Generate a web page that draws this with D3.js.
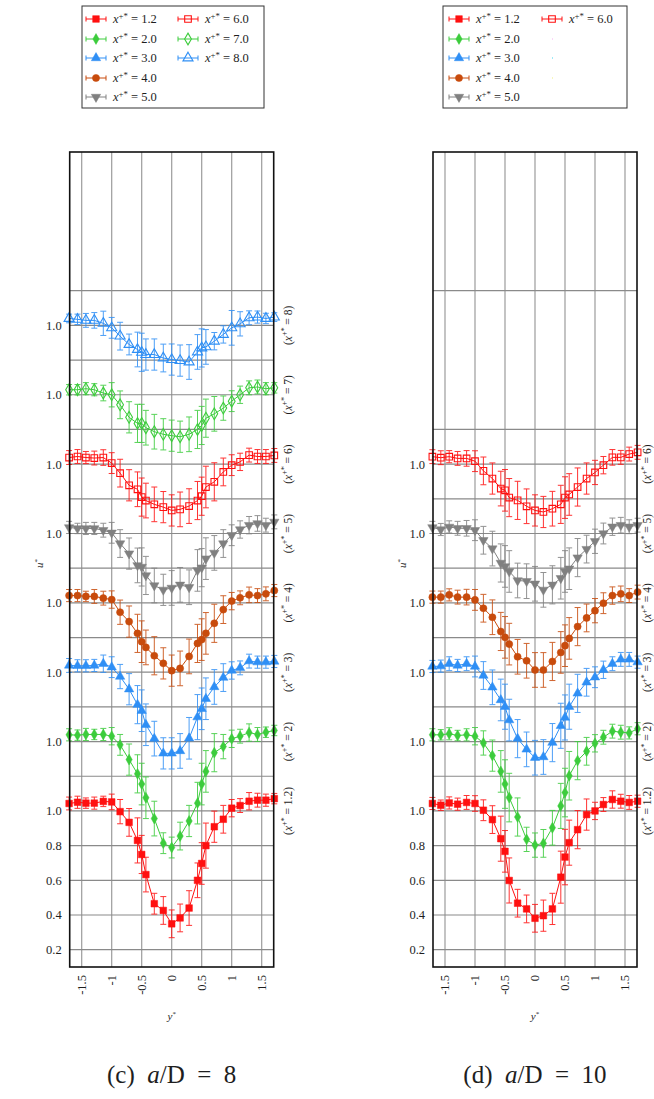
<!DOCTYPE html>
<html><head><meta charset="utf-8">
<script src="https://cdn.jsdelivr.net/npm/d3@7"></script>
<style>body{margin:0;background:#fff}svg{display:block}</style>
</head><body>
<svg id="c" width="654" height="1099" font-family="'Liberation Serif', 'Times New Roman', 'DejaVu Serif', serif"></svg>
<script>
// ---------------- DATA ----------------
const yStar = [-1.71,-1.57,-1.43,-1.29,-1.14,-1.0,-0.86,-0.71,-0.57,-0.5,-0.43,-0.29,-0.14,0,0.14,0.29,0.43,0.5,0.57,0.71,0.86,1.0,1.14,1.29,1.43,1.57,1.71];
const profileStep = 0.4;

// panel (c) a/D = 8
const L12 = [1.043,1.05,1.045,1.045,1.055,1.052,0.996,0.934,0.83,0.749,0.633,0.465,0.426,0.349,0.383,0.44,0.6,0.697,0.80,0.909,0.952,1.016,1.031,1.056,1.062,1.062,1.071];
const L20 = [1.039,1.037,1.041,1.041,1.041,1.031,0.981,0.896,0.814,0.755,0.676,0.556,0.414,0.389,0.455,0.542,0.645,0.755,0.828,0.936,0.971,1.016,1.031,1.052,1.041,1.054,1.064];
const L30 = [1.039,1.037,1.037,1.039,1.049,1.029,0.975,0.902,0.813,0.778,0.697,0.617,0.532,0.532,0.546,0.619,0.741,0.789,0.847,0.915,0.969,1.01,1.025,1.064,1.058,1.058,1.062];
const L40 = [1.042,1.042,1.037,1.037,1.027,1.019,0.946,0.892,0.824,0.776,0.743,0.695,0.651,0.609,0.622,0.691,0.766,0.788,0.824,0.882,0.961,1.01,1.029,1.046,1.042,1.052,1.071];
const L50 = [1.035,1.029,1.029,1.029,1.019,1.004,0.942,0.884,0.816,0.807,0.758,0.70,0.675,0.686,0.704,0.69,0.787,0.803,0.855,0.888,0.942,0.99,1.023,1.048,1.058,1.048,1.067];
const L60 = [1.038,1.044,1.038,1.035,1.038,1.006,0.948,0.878,0.855,0.81,0.79,0.768,0.752,0.733,0.739,0.758,0.79,0.815,0.868,0.898,0.955,0.994,1.013,1.052,1.044,1.044,1.05];
const L70 = [1.029,1.029,1.035,1.029,1.01,1.0,0.942,0.87,0.835,0.835,0.81,0.787,0.772,0.764,0.758,0.772,0.80,0.823,0.865,0.89,0.923,0.963,1.0,1.04,1.045,1.035,1.04];
const L80 = [1.04,1.035,1.029,1.029,1.012,0.986,0.938,0.89,0.861,0.845,0.832,0.832,0.812,0.803,0.797,0.789,0.847,0.87,0.876,0.909,0.948,0.986,1.009,1.044,1.048,1.04,1.048];
const eL12 = [.037,.035,.03,.035,.03,.045,.07,.08,.13,.11,.10,.06,.08,.08,.08,.10,.10,.12,.13,.09,.08,.05,.04,.05,.04,.035,.03];
const eL20 = [.035,.03,.035,.03,.035,.05,.06,.09,.11,.12,.12,.10,.06,.06,.08,.09,.12,.12,.12,.11,.07,.05,.04,.05,.04,.03,.03];
const eL30 = [.04,.035,.035,.035,.05,.06,.07,.09,.11,.12,.12,.10,.09,.09,.10,.12,.13,.12,.12,.10,.08,.05,.04,.04,.035,.035,.035];
const eL40 = [.035,.035,.03,.04,.04,.05,.07,.09,.11,.12,.10,.11,.09,.09,.10,.10,.11,.12,.12,.11,.08,.05,.04,.045,.04,.04,.035];
const eL50 = [.035,.03,.035,.035,.04,.06,.08,.09,.10,.11,.11,.10,.09,.10,.10,.10,.12,.11,.12,.10,.08,.06,.05,.05,.045,.04,.04];
const eL60 = [.04,.04,.035,.04,.045,.06,.08,.09,.10,.11,.10,.10,.09,.09,.10,.10,.11,.11,.12,.11,.08,.06,.05,.04,.04,.04,.04];
const eL70 = [.03,.03,.035,.035,.045,.07,.08,.09,.11,.11,.10,.10,.09,.09,.09,.10,.11,.11,.11,.10,.07,.06,.05,.04,.04,.035,.03];
const eL80 = [.025,.03,.04,.045,.07,.06,.08,.06,.10,.11,.09,.09,.08,.09,.09,.10,.10,.11,.10,.05,.05,.10,.07,.04,.035,.03,.025];

// panel (d) a/D = 10
const R12 = [1.043,1.033,1.046,1.039,1.049,1.043,1.004,0.95,0.84,0.767,0.599,0.468,0.435,0.381,0.396,0.435,0.618,0.734,0.817,0.892,0.979,1.0,1.037,1.066,1.056,1.049,1.056];
const R20 = [1.039,1.039,1.045,1.035,1.039,1.031,0.992,0.919,0.828,0.755,0.677,0.565,0.436,0.403,0.413,0.503,0.629,0.706,0.803,0.89,0.944,0.99,1.025,1.06,1.054,1.05,1.074];
const R30 = [1.033,1.035,1.049,1.039,1.049,1.033,0.981,0.913,0.84,0.801,0.724,0.617,0.555,0.507,0.511,0.594,0.691,0.739,0.801,0.878,0.942,0.971,1.014,1.049,1.074,1.074,1.058];
const R40 = [1.033,1.033,1.046,1.033,1.033,1.017,0.969,0.917,0.835,0.801,0.762,0.689,0.666,0.613,0.613,0.662,0.714,0.753,0.795,0.863,0.913,0.955,0.998,1.042,1.052,1.042,1.062];
const R50 = [1.035,1.023,1.038,1.03,1.03,1.019,0.961,0.913,0.83,0.81,0.781,0.729,0.725,0.71,0.675,0.704,0.742,0.781,0.797,0.861,0.91,0.955,1.0,1.039,1.048,1.039,1.048];
const R60 = [1.043,1.037,1.043,1.033,1.033,1.017,0.961,0.917,0.859,0.849,0.807,0.791,0.757,0.733,0.724,0.743,0.768,0.807,0.825,0.868,0.917,0.952,0.994,1.039,1.039,1.058,1.068];
const eR12 = [.035,.03,.035,.035,.04,.045,.06,.08,.13,.12,.13,.08,.08,.08,.09,.09,.15,.16,.13,.11,.09,.05,.04,.05,.04,.04,.035];
const eR20 = [.035,.03,.035,.03,.035,.05,.07,.09,.12,.14,.14,.11,.07,.07,.08,.10,.13,.14,.14,.11,.08,.05,.04,.04,.04,.035,.035];
const eR30 = [.035,.035,.04,.035,.04,.06,.08,.10,.12,.13,.12,.11,.10,.10,.10,.11,.13,.13,.13,.11,.08,.06,.05,.04,.04,.04,.035];
const eR40 = [.035,.035,.035,.04,.045,.06,.08,.10,.11,.12,.12,.10,.10,.10,.10,.11,.12,.12,.12,.11,.08,.07,.06,.05,.045,.04,.04];
const eR50 = [.035,.035,.035,.04,.045,.06,.08,.10,.11,.12,.12,.10,.10,.10,.10,.11,.12,.12,.12,.11,.08,.07,.06,.05,.045,.04,.04];
const eR60 = [.04,.04,.035,.04,.045,.06,.08,.09,.10,.12,.11,.11,.10,.09,.09,.10,.11,.12,.12,.11,.09,.07,.05,.045,.04,.04,.04];

const legendLabels = ["1.2","2.0","3.0","4.0","5.0","6.0","7.0","8.0"];
const sideLabels = ["1.2","2","3","4","5","6","7","8"];
const xTicks = [-1.5,-1,-0.5,0,0.5,1,1.5];
const xTickLabels = ["-1.5","-1","-0.5","0","0.5","1","1.5"];
const yTicksLeft = [0.2,0.4,0.6,0.8,1.0,1.2,1.4,1.6,1.8,2.0,2.2,2.4,2.6,2.8,3.0,3.2,3.4,3.6,3.8,4.0];
const yTickLabelsLeft = ["0.2","0.4","0.6","0.8","1.0","","1.0","","1.0","","1.0","","1.0","","1.0","","1.0","","1.0",""];
const yTicksRight = [0.2,0.4,0.6,0.8,1.0,1.2,1.4,1.6,1.8,2.0,2.2,2.4,2.6,2.8,3.0,3.2,4.0];
const yTickLabelsRight = ["0.2","0.4","0.6","0.8","1.0","","1.0","","1.0","","1.0","","1.0","","1.0","",""];

// ---------------- STYLES ----------------
const RED="#ff1010", GREEN="#3ccc3c", BLUE="#2f8ff5", ORANGE="#c84b0c", GRAY="#808080";
const styles = [
  {color:RED, sym:d3.symbolSquare, size:44, fill:true, rot:0},
  {color:GREEN, sym:d3.symbolDiamond, size:34, fill:true, rot:0},
  {color:BLUE, sym:d3.symbolTriangle, size:38, fill:true, rot:0},
  {color:ORANGE, sym:d3.symbolCircle, size:40, fill:true, rot:0},
  {color:GRAY, sym:d3.symbolTriangle, size:38, fill:true, rot:180},
  {color:RED, sym:d3.symbolSquare, size:44, fill:false, rot:0},
  {color:GREEN, sym:d3.symbolDiamond, size:40, fill:false, rot:0},
  {color:BLUE, sym:d3.symbolTriangle, size:44, fill:false, rot:0}
];

const FONT = "'Liberation Serif', 'Times New Roman', 'DejaVu Serif', serif";
const svg = d3.select("#c");
const plotTop = 152, plotBottom = 967;
const y = d3.scaleLinear().domain([0.1, 4.8]).range([plotBottom, plotTop]);

function supText(sel, base, sup, rest, size){
  sel.append("tspan").attr("font-style","italic").text(base);
  sel.append("tspan").attr("font-size", size*0.7).attr("dy", -size*0.38).text(sup);
  sel.append("tspan").attr("dy", size*0.38).text(rest);
}

function panel(cfg){
  const x = d3.scaleLinear().domain([-1.7,1.7]).range(cfg.xr);
  const g = svg.append("g").attr("font-family",FONT).attr("fill","#1e1e1e");
  const [x0,x1] = cfg.xr;
  // grid
  g.selectAll(".vg").data(xTicks).join("line")
    .attr("x1",d=>x(d)).attr("x2",d=>x(d)).attr("y1",plotTop).attr("y2",plotBottom)
    .attr("stroke","#9c9c9c").attr("stroke-width",1.2);
  g.selectAll(".hg").data(cfg.yTicks).join("line")
    .attr("x1",x0).attr("x2",x1).attr("y1",d=>y(d)).attr("y2",d=>y(d))
    .attr("stroke","#8a8a8a").attr("stroke-width",1.2);
  // y tick labels
  g.selectAll(".yl").data(cfg.yTicks).join("text")
    .attr("x",x0-8).attr("y",d=>y(d)).attr("dy","0.35em").attr("text-anchor","end")
    .attr("font-size",12.5).text((d,i)=>cfg.yLabels[i]);
  // x tick labels
  g.selectAll(".xl").data(xTicks).join("text")
    .attr("transform",d=>`translate(${x(d)},${plotBottom+8}) rotate(-90)`)
    .attr("dy","0.35em").attr("text-anchor","end").attr("font-size",12.5)
    .text((d,i)=>xTickLabels[i]);
  // axis titles
  const yt = g.append("text").attr("transform",`translate(${x0-27},${(plotTop+plotBottom)/2+4}) rotate(-90)`)
    .attr("text-anchor","middle").attr("font-size",11);
  yt.append("tspan").attr("font-style","italic").text("u");
  yt.append("tspan").attr("font-size",7).attr("dy",-4).text("*");
  const xt = g.append("text").attr("x",x(0)).attr("y",1020).attr("text-anchor","middle").attr("font-size",11);
  xt.append("tspan").attr("font-style","italic").text("y");
  xt.append("tspan").attr("font-size",7).attr("dy",-4).text("*");

  // data
  cfg.series.forEach((s,k)=>{
    const st = styles[k], off = k*profileStep;
    const pts = yStar.map((v,i)=>({x:v,u:s.vals[i]+off,e:s.err[i]}));
    const sg = g.append("g");
    sg.append("path").datum(pts)
      .attr("d", d3.line().x(d=>x(d.x)).y(d=>y(d.u)))
      .attr("fill","none").attr("stroke",st.color).attr("stroke-width",1);
    const eb = sg.selectAll(".eb").data(pts).join("g").attr("stroke",st.color).attr("stroke-width",1).attr("opacity",0.85);
    eb.append("line").attr("x1",d=>x(d.x)).attr("x2",d=>x(d.x)).attr("y1",d=>y(d.u-d.e)).attr("y2",d=>y(d.u+d.e));
    eb.append("line").attr("x1",d=>x(d.x)-3).attr("x2",d=>x(d.x)+3).attr("y1",d=>y(d.u-d.e)).attr("y2",d=>y(d.u-d.e));
    eb.append("line").attr("x1",d=>x(d.x)-3).attr("x2",d=>x(d.x)+3).attr("y1",d=>y(d.u+d.e)).attr("y2",d=>y(d.u+d.e));
    sg.selectAll(".mk").data(pts).join("path")
      .attr("d", d3.symbol().type(st.sym).size(st.size))
      .attr("transform",d=>`translate(${x(d.x)},${y(d.u)}) rotate(${st.rot})`)
      .attr("fill", st.fill?st.color:"none").attr("stroke",st.color).attr("stroke-width",st.fill?0.5:1.1);
    // side label
    const t = g.append("text").attr("transform",`translate(${x1+cfg.sideOff},${y(1.0+off)}) rotate(-90)`)
      .attr("text-anchor","middle").attr("dy","0.35em").attr("font-size",11.5);
    t.append("tspan").text("(");
    supText(t,"x","+*"," = "+sideLabels[k]+")",11.5);
  });
  // frame
  g.append("rect").attr("x",x0).attr("y",plotTop).attr("width",x1-x0).attr("height",plotBottom-plotTop)
    .attr("fill","none").attr("stroke","#111").attr("stroke-width",1.6);

  // legend
  const L = cfg.legend;
  g.append("rect").attr("x",L.x).attr("y",6).attr("width",L.w).attr("height",102)
    .attr("fill","#fff").attr("stroke","#333").attr("stroke-width",1);
  const rows = [19,39,58,78,97];
  cfg.series.forEach((s,k)=>{
    const st = styles[k];
    const col = k<5?0:1, row = k<5?k:k-5;
    const cx = L.cols[col], cy = rows[row];
    const lg = g.append("g").attr("stroke",st.color).attr("stroke-width",1);
    lg.append("line").attr("x1",cx-10).attr("x2",cx+10).attr("y1",cy).attr("y2",cy);
    lg.append("line").attr("x1",cx-10).attr("x2",cx-10).attr("y1",cy-2.5).attr("y2",cy+2.5);
    lg.append("line").attr("x1",cx+10).attr("x2",cx+10).attr("y1",cy-2.5).attr("y2",cy+2.5);
    lg.append("path").attr("d",d3.symbol().type(st.sym).size(st.size))
      .attr("transform",`translate(${cx},${cy}) rotate(${st.rot})`)
      .attr("fill",st.fill?st.color:"none").attr("stroke-width",st.fill?0.5:1.1);
    const t = g.append("text").attr("x",cx+17).attr("y",cy).attr("dy","0.35em").attr("font-size",12.5);
    supText(t,"x","+*"," = "+legendLabels[k],12.5);
  });
  if (cfg.ghost){
    ["#f7b0f0","#40d8f0","#f0f080"].forEach((c,i)=>{
      g.append("rect").attr("x",L.cols[1]).attr("y",rows[i+1]-0.5).attr("width",1).attr("height",1).attr("fill",c);
    });
  }
  // caption
  const cap = g.append("text").attr("x",x(0)).attr("y",1083).attr("text-anchor","middle")
    .attr("font-size",25);
  cap.append("tspan").text(cfg.cap+"\u2002");
  cap.append("tspan").attr("font-style","italic").text("a");
  cap.append("tspan").text("/D\u2002=\u2002"+cfg.capVal);
}

panel({xr:[69.7,273.7], yTicks:yTicksLeft, yLabels:yTickLabelsLeft, sideOff:14,
  series:[{vals:L12,err:eL12},{vals:L20,err:eL20},{vals:L30,err:eL30},{vals:L40,err:eL40},{vals:L50,err:eL50},{vals:L60,err:eL60},{vals:L70,err:eL70},{vals:L80,err:eL80}],
  legend:{x:82,w:182,cols:[96,188]}, cap:"(c)", capVal:"8"});
panel({xr:[433,637], yTicks:yTicksRight, yLabels:yTickLabelsRight, sideOff:10,
  series:[{vals:R12,err:eR12},{vals:R20,err:eR20},{vals:R30,err:eR30},{vals:R40,err:eR40},{vals:R50,err:eR50},{vals:R60,err:eR60}],
  legend:{x:443,w:184,cols:[459,552]}, ghost:true, cap:"(d)", capVal:"10"});
</script>
</body></html>
